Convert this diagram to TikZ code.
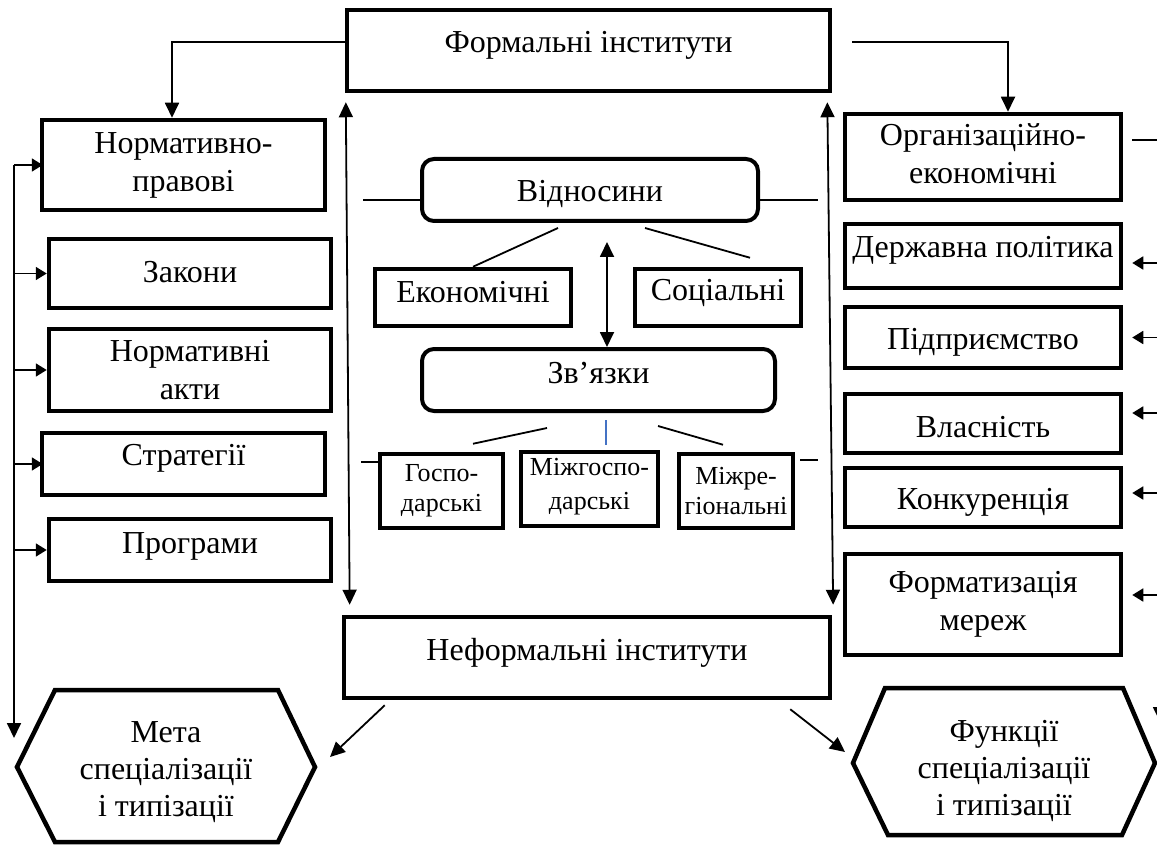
\documentclass[tikz,border=0pt]{standalone}
\usepackage{fontspec}
\setmainfont{Liberation Serif}
\usetikzlibrary{arrows.meta}
\definecolor{lnblue}{RGB}{68,114,196}
\newcommand{\rz}[2]{\raisebox{#1}[\height][\depth]{#2}}
\begin{document}
\begin{tikzpicture}[x=1pt,y=-1pt,
  bx/.style={draw, line width=4.5pt, inner sep=0pt, align=center, font=\fontsize{32}{38}\selectfont},
  rbx/.style={bx, line width=4pt, rounded corners=12pt},
  sbx/.style={bx, font=\fontsize{26}{30}\selectfont},
  txt/.style={inner sep=0pt, align=center, font=\fontsize{32}{37}\selectfont},
  ln/.style={line width=1.8pt},
  ar/.style={ln, -{Triangle[length=15pt,width=14pt]}},
  ars/.style={ln, -{Triangle[length=11pt,width=13pt]}},
  arb/.style={ln, {Triangle[length=15pt,width=14pt]}-{Triangle[length=15pt,width=14pt]}},
  hex/.style={line width=4.5pt, line join=miter}
  ]
\useasboundingbox (0,0) rectangle (1157,845);
\clip (0,0) rectangle (1157,845);

% top and bottom
\node[bx, minimum width=483pt, minimum height=81pt] (formal) at (588.5,50.5) {\rz{5pt}{Формальні інститути}};
\node[bx, minimum width=486pt, minimum height=81pt] (inf) at (587,657.5) {\rz{5pt}{Неформальні інститути}};

% left column
\node[bx, minimum width=283pt, minimum height=90pt] (npr) at (183.5,165) {Нормативно-\\правові};
\node[bx, minimum width=282pt, minimum height=69pt] (zak) at (190,273.5) {\rz{1pt}{Закони}};
\node[bx, minimum width=282pt, minimum height=82pt] (nakt) at (190,370) {Нормативні\\акти};
\node[bx, minimum width=283pt, minimum height=62pt] (strat) at (183.5,464) {\rz{6pt}{Стратегії}};
\node[bx, minimum width=282pt, minimum height=62pt] (prog) at (190,550) {\rz{4pt}{Програми}};

% right column
\node[bx, minimum width=276pt, minimum height=86pt] (org) at (983,157) {\rz{3pt}{Організаційно-}\\\rz{3pt}{економічні}};
\node[bx, minimum width=276pt, minimum height=64pt] (derzh) at (983,256) {\rz{6pt}{Державна політика}};
\node[bx, minimum width=276pt, minimum height=61pt] (pidpr) at (983,337.5) {\rz{-5pt}{Підприємство}};
\node[bx, minimum width=276pt, minimum height=59pt] (vlas) at (983,423.5) {\rz{-4pt}{Власність}};
\node[bx, minimum width=276pt, minimum height=59pt] (konk) at (983,497.5) {\rz{-5pt}{Конкуренція}};
\node[bx, minimum width=276pt, minimum height=101pt] (format) at (983,604.5) {Форматизація\\мереж};

% centre
\node[rbx, minimum width=336pt, minimum height=62pt] (vidn) at (590,190) {\rz{-4pt}{Відносини}};
\node[bx, minimum width=196pt, minimum height=57pt] (ekon) at (473,297.5) {\rz{5pt}{Економічні}};
\node[bx, minimum width=166pt, minimum height=57pt] (soc) at (718,297.5) {\rz{5pt}{Соціальні}};
\node[rbx, minimum width=353pt, minimum height=62pt] (zv) at (598.5,380) {\rz{7pt}{Зв’язки}};
\node[sbx, minimum width=123pt, minimum height=74pt] (gosp) at (441.5,491) {Госпо-\\дарські};
\node[sbx, minimum width=137pt, minimum height=74pt] (mgosp) at (589.5,489) {\rz{4pt}{Міжгоспо-}\\дарські};
\node[sbx, minimum width=114pt, minimum height=74pt] (mreg) at (736,491) {Міжре-\\гіональні};

% hexagons
\draw[hex] (55,690) -- (278,690) -- (315,767) -- (278,842) -- (55,842) -- (17,767) -- cycle;
\node[txt] (meta) at (166,772) {Мета\\спеціалізації\\і типізації};
\draw[hex] (885,688) -- (1123,688) -- (1155,763) -- (1122,835) -- (888,835) -- (853,763) -- cycle;
\node[txt] (func) at (1004,771) {Функції\\спеціалізації\\і типізації};

% coordinates
\coordinate (fr) at (852,42);
\coordinate (bustop) at (14,165);
\coordinate (busbot) at (14,738);
\coordinate (rb) at (1157,0);
\coordinate (rbt) at (1160,140);
\coordinate (rbb) at (1160,722);
\coordinate (metaA) at (330,757);
\coordinate (funcA) at (845,752);

% top connectors
\draw[ar] ([yshift=8.5pt]formal.west) -| ([xshift=-11.5pt]npr.north);
\draw[ar] (fr) -| ([xshift=25pt]org.north);

% left bus
\draw[ar] (bustop) -- (busbot);
\draw[ars] (bustop) -- ([xshift=3pt]npr.west);
\draw[ars] (bustop |- zak.west) -- (zak.west);
\draw[ars] (bustop |- nakt.west) -- (nakt.west);
\draw[ars] (bustop |- strat.west) -- ([xshift=3pt]strat.west);
\draw[ars] (bustop |- prog.west) -- (prog.west);

% right side
\draw[ln] ([yshift=17pt,xshift=9pt]org.east) -- ([yshift=17pt]org.east -| rb);
\draw[ars, shorten >=9pt] ([yshift=-7pt]derzh.east -| rb) -- ([yshift=-7pt]derzh.east);
\draw[ars, shorten >=9pt] (pidpr.east -| rb) -- (pidpr.east);
\draw[ars, shorten >=9pt] ([yshift=10.5pt]vlas.east -| rb) -- ([yshift=10.5pt]vlas.east);
\draw[ars, shorten >=9pt] ([yshift=4.5pt]konk.east -| rb) -- ([yshift=4.5pt]konk.east);
\draw[ars, shorten >=9pt] ([yshift=9.5pt]format.east -| rb) -- ([yshift=9.5pt]format.east);
\draw[ar] (rbt) -- (rbb);

% long double arrows
\draw[arb, shorten <=9pt, shorten >=10pt] ([xshift=1pt]formal.south west) -- ([xshift=8pt]inf.north west);
\draw[arb, shorten <=9pt, shorten >=10pt] ([xshift=-5pt]formal.south east) -- ([xshift=1pt]inf.north east);

% centre connectors
\draw[ln] ([yshift=-10pt]vidn.west) -- ++(-57,0);
\draw[ln] ([yshift=-10pt]vidn.east) -- ++(58,0);
\draw[ln] ([xshift=-32pt,yshift=-5pt]vidn.south) -- (ekon.north);
\draw[ln] ([xshift=55pt,yshift=-5pt]vidn.south) -- ([xshift=32pt,yshift=9pt]soc.north);
\draw[arb] ([xshift=17pt,yshift=-19pt]vidn.south) -- ([xshift=8.5pt]zv.north);
\draw[ln] ([xshift=-51.5pt,yshift=-15pt]zv.south) -- ([xshift=31.5pt,yshift=8pt]gosp.north);
\draw[line width=1.2pt, lnblue] ([xshift=7.5pt,yshift=-7pt]zv.south) -- ([xshift=16.5pt,yshift=5pt]mgosp.north);
\draw[ln] ([xshift=59.5pt,yshift=-13pt]zv.south) -- ([xshift=-13pt,yshift=7pt]mreg.north);
\draw[ln] ([yshift=29pt]gosp.west) -- ++(-17,0);
\draw[ln] ([yshift=31pt,xshift=5pt]mreg.east) -- ++(18,0);

% bottom diagonals
\draw[ar] ([xshift=43pt,yshift=-5pt]inf.south west) -- (metaA);
\draw[ar] ([xshift=-42pt,yshift=-9pt]inf.south east) -- (funcA);
\end{tikzpicture}
\end{document}
